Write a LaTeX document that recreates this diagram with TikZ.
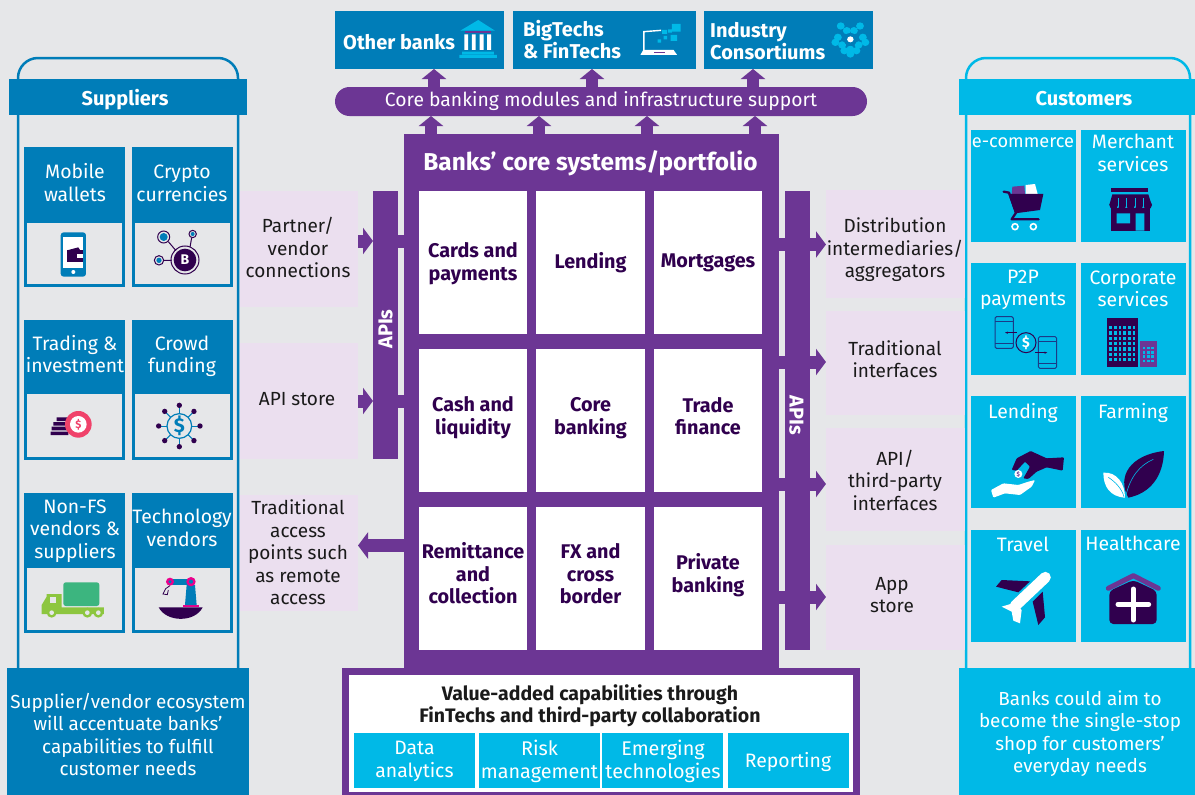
\documentclass[tikz,border=0pt]{standalone}
\usepackage{fontspec}
\setmainfont{Fira Sans}
\usetikzlibrary{arrows.meta}
\definecolor{bgc}{HTML}{E6E7E9}
\definecolor{blu}{HTML}{007DB8}
\definecolor{cya}{HTML}{00B9E7}
\definecolor{pur}{HTML}{6C3694}
\definecolor{dpu}{HTML}{30004E}
\definecolor{lil}{HTML}{EBDFEF}
\definecolor{ink}{HTML}{1A1A1A}
\definecolor{pnk}{HTML}{F0426A}
\definecolor{mag}{HTML}{EC008C}
\definecolor{grn}{HTML}{3CB57F}
\definecolor{lgr}{HTML}{8DC63F}
\definecolor{nav}{HTML}{1B3A87}
\newcommand\bx[7]{\pgfmathsetmacro\bxw{(#4)-(#2)}\pgfmathsetmacro\bxh{(#5)-(#3)}%
  \node[#6,minimum width=\bxw pt,minimum height=\bxh pt,anchor=north west,inner sep=0pt,align=center,outer sep=0pt](#1) at (#2,#3){#7};}
\tikzset{
  lbl/.style={inner sep=0pt,align=center,font=\fontsize{19}{22.5}\selectfont},
  wlbl/.style={lbl,text=white,font=\fontsize{19.4}{22.5}\selectfont},
  ilbl/.style={lbl,text=ink},
  clbl/.style={lbl,text=dpu,font=\fontsize{19.8}{22.5}\selectfont\bfseries},
  flbl/.style={lbl,text=white,font=\fontsize{18.9}{22.3}\selectfont},
  hdr/.style={lbl,text=white,font=\fontsize{20}{22}\selectfont\bfseries},
  thdr/.style={hdr,anchor=west,align=left,font=\fontsize{20}{22}\selectfont\bfseries},
  apit/.style={inner sep=0pt,text=white,font=\fontsize{20}{22}\selectfont\bfseries},
  fb/.style={fill=blu}, fc/.style={fill=cya}, fp/.style={fill=pur},
  fl/.style={fill=lil}, fw/.style={fill=white}, fg/.style={fill=bgc},
  blockR/.style={pur,line width=13pt,-{Triangle[length=10pt,width=26pt]}},
  blockU/.style={pur,line width=12pt,-{Triangle[length=10pt,width=24pt]}},
  link/.style={pur,line width=13pt},
  zm/.style={x=0.33333pt,y=-0.33333pt},
  zw/.style={x=0.35714pt,y=-0.33333pt},
}
\begin{document}
\begin{tikzpicture}[x=1pt,y=-1pt]
\useasboundingbox (0,0) rectangle (1195,795);
\fill[bgc] (0,0) rectangle (1195,795);
% frames
\draw[blu,line width=2.5pt,rounded corners=20pt] (18,668) -- (18,58) -- (238,58) -- (238,668);
\draw[cya,line width=2.5pt,rounded corners=20pt] (966,668) -- (966,58) -- (1190,58) -- (1190,668);
\bx{suph}{9}{79}{247}{115}{fb}{}\node[hdr] (supht) at (125,99.5) {Suppliers};
\bx{cush}{959}{79}{1195}{115}{fc}{}\node[hdr] (cusht) at (1084,99) {Customers};
\bx{supf}{7}{668}{249}{795}{fb}{}\node[flbl] (supft) at (128,734.5) {Supplier/vendor ecosystem\\will accentuate banks’\\capabilities to fulfill\\customer needs};
\bx{cusf}{959}{668}{1195}{795}{fc}{}\node[flbl] (cusft) at (1080,733.5) {Banks could aim to\\become the single-stop\\shop for customers'\\everyday needs};
% supplier cards
\newcommand\scard[8]{\bx{#1}{#2}{#3}{#2+101}{#4}{fb}{}\bx{#1p}{#2+3}{#5}{#2+98}{#4-3}{fg}{}\node[wlbl] (#1t) at (#6,#7) {#8};}
\scard{sa}{24}{147}{287}{223}{75}{182.5}{Mobile\\wallets}
\scard{sb}{132}{147}{287}{223}{182}{183.5}{Crypto\\currencies}
\scard{sc}{24}{320}{460}{394}{75}{354}{Trading \&\\investment}
\scard{sd}{132}{320}{460}{394}{182}{356.5}{Crowd\\funding}
\scard{se}{24}{493}{633}{568}{75}{531}{Non-FS\\vendors \&\\suppliers}
\scard{sf}{132}{493}{633}{568}{182}{528}{Technology\\vendors}
% customer cards
\newcommand\ccard[6]{\bx{#1}{#2}{#3}{#2+105}{#3+112}{fc}{}\node[wlbl] (#1t) at (#4,#5) {#6};}
\ccard{ca}{971}{130}{1023}{143}{\fontsize{18.2}{22.5}\selectfont e-commerce}
\ccard{cb}{1081}{130}{1133}{153}{Merchant\\services}
\ccard{cc}{971}{263}{1023}{290}{P2P\\payments}
\ccard{cd}{1081}{263}{1133}{289}{Corporate\\services}
\ccard{ce}{971}{396}{1023}{413}{Lending}
\ccard{cf}{1081}{396}{1133}{413}{Farming}
\ccard{cg}{971}{530}{1023}{544}{Travel}
\ccard{ch}{1081}{530}{1133}{543}{Healthcare}
% lilac boxes
\bx{pa}{240}{191}{358}{307}{fl}{}\node[ilbl] (pat) at (298,247.5) {Partner/\\vendor\\connections};
\bx{pb}{240}{343}{358}{459}{fl}{}\node[ilbl] (pbt) at (297,399.5) {API store};
\bx{pc}{240}{495}{358}{611}{fl}{}\node[ilbl] (pct) at (298,552.5) {Traditional\\access\\points such\\as remote\\access};
\bx{da}{826}{190}{965}{298}{fl}{}\node[ilbl] (dat) at (895,250) {Distribution\\intermediaries/\\aggregators};
\bx{db}{826}{311}{965}{415}{fl}{}\node[ilbl] (dbt) at (895,359) {Traditional\\interfaces};
\bx{dc}{826}{428}{965}{531}{fl}{}\node[ilbl] (dct) at (895,480) {API/\\third-party\\interfaces};
\bx{dd}{826}{545}{965}{650}{fl}{}\node[ilbl] (ddt) at (892,595) {App\\store};
% core
\bx{core}{404}{134}{779}{668}{fp}{}
\node[inner sep=0pt,text=white,font=\fontsize{24.4}{26}\selectfont\bfseries] (coret) at (590.5,163) {Banks’ core systems/portfolio};
\newcommand\cell[6]{\bx{#1}{#2}{#3}{#2+#4}{#3+143}{fw}{}\node[clbl] (#1t) at (#2+#4/2,#5) {#6};}
\cell{m1}{419}{191}{108}{263.5}{Cards and\\payments}
\cell{m2}{536}{191}{109}{263}{Lending}
\cell{m3}{654}{191}{108}{263}{Mortgages}
\cell{m4}{419}{349}{108}{417.5}{Cash and\\liquidity}
\cell{m5}{536}{349}{109}{418}{Core\\banking}
\cell{m6}{654}{349}{108}{416}{Trade\\finance}
\cell{m7}{419}{507}{108}{573.5}{Remittance\\and\\collection}
\cell{m8}{536}{507}{109}{574}{FX and\\cross\\border}
\cell{m9}{654}{507}{108}{575}{Private\\banking}
% API bars
\bx{al}{373}{191}{398}{459}{fp}{}
\bx{ar}{785}{191}{810}{650}{fp}{}
\node[rotate=90,apit] (alt) at (385.5,329) {APIs};
\node[rotate=-90,apit] (art) at (796.5,415) {APIs};
% pill and top boxes
\node[fp,rounded corners=14.5pt,minimum width=532pt,minimum height=29pt,inner sep=0pt,text=white,font=\fontsize{19.3}{22}\selectfont,outer sep=0pt] (pill) at (601,101.5) {Core banking modules and infrastructure support};
\bx{ta}{335}{11}{504}{69}{fb}{}\node[thdr] (tat) at (343,42) {Other banks};
\bx{tb}{513}{11}{696}{69}{fb}{}\node[thdr] (tbt) at (523,40) {BigTechs\\\& FinTechs};
\bx{tc}{704}{11}{873}{69}{fb}{}\node[thdr] (tct) at (710,41) {Industry\\Consortiums};
% bottom box
\bx{vo}{342}{668}{860}{795}{fp}{}
\bx{vi}{349}{675}{853}{792}{fw}{}
\node[lbl,text=ink,font=\fontsize{19.5}{22}\selectfont\bfseries] (vt) at (590,706) {Value-added capabilities through\\FinTechs and third-party collaboration};
\bx{v1}{354}{733}{475}{788}{fc}{}\node[wlbl] (v1t) at (414.5,761.5) {Data\\analytics};
\bx{v2}{479}{733}{600}{788}{fc}{}\node[wlbl,font=\fontsize{19.8}{22.5}\selectfont] (v2t) at (539.5,761.5) {Risk\\management};
\bx{v3}{602}{733}{723}{788}{fc}{}\node[wlbl,font=\fontsize{19.8}{22.5}\selectfont] (v3t) at (663,761.5) {Emerging\\technologies};
\bx{v4}{728}{733}{849}{788}{fc}{}\node[wlbl] (v4t) at (788,762) {Reporting};
% connectors: left
\coordinate (ya) at (0,241); \coordinate (yb) at (0,401); \coordinate (yc) at (0,545.5);
\draw[blockR] (pa.east |- ya) -- (al.west |- ya);
\draw[link] (al.east |- ya) -- (core.west |- ya);
\draw[blockR] (pb.east |- yb) -- (al.west |- yb);
\draw[link] (al.east |- yb) -- (core.west |- yb);
\draw[blockR] (core.west |- yc) -- (pc.east |- yc);
% connectors: right
\foreach \yy/\bxn in {244.5/da,362/db,484/dc,597/dd}{
  \coordinate (yr) at (0,\yy);
  \draw[link] (core.east |- yr) -- (ar.west |- yr);
  \draw[blockR] (ar.east |- yr) -- (\bxn.west |- yr);
}
% connectors: up
\foreach \xx in {431,539,647,755}{
  \coordinate (xu) at (\xx,0);
  \draw[blockU] (xu |- core.north) -- (xu |- pill.south);
}
\coordinate (xa) at (434,0); \coordinate (xb) at (592,0); \coordinate (xc) at (753,0);
\draw[blockU] (xa |- pill.north) -- (xa |- ta.south);
\draw[blockU] (xb |- pill.north) -- (xb |- tb.south);
\draw[blockU] (xc |- pill.north) -- (xc |- tc.south);
% ---------- icons
\begin{scope}[shift={(0,50)},zm]
 \fill[blu,rounded corners=3pt] (182,547) rectangle (258,680);
 \fill[white] (189,560) rectangle (250,655);
 \fill[white] (220,666) circle (6);
 \fill[dpu] (200,600) rectangle (248,637);
 \fill[dpu] (205,600) -- (235,592) -- (240,600) -- cycle;
 \fill[white] (230,612) rectangle (248,625);
 \draw[dpu,line width=1pt] (555,630) circle (42);
 \fill[dpu] (555,630) circle (34);
 \node[text=white,inner sep=0pt,font=\fontsize{14}{14}\selectfont\bfseries] (bit) at (555,630) {B};
 \draw[dpu,line width=1pt] (505,575)--(528,602) (575,563)--(570,592) (491,631)--(515,631);
 \draw[dpu,line width=1pt,fill=bgc] (491,561) circle (18) (578,552) circle (11) (477,631) circle (14);
 \fill[blu] (491,561) circle (12) (578,552) circle (6) (477,631) circle (8);
\end{scope}
\begin{scope}[shift={(0,320)},zm]
 \fill[dpu] (170,292) rectangle (205,303) (160,306) rectangle (205,317) (155,320) rectangle (205,331) (152,335) rectangle (205,345);
 \fill[pnk] (235,313) circle (40);
 \fill[white] (235,313) circle (25);
 \node[text=pnk,inner sep=0pt,font=\fontsize{11}{11}\selectfont\bfseries] (coin) at (235,313) {\$};
 \foreach \a in {0,45,...,315}{
   \draw[blu,line width=1pt] (538,318)++(\a:37) -- ++(\a:25);
   \fill[dpu] (538,318)++(\a:62) circle (8);
 }
 \draw[blu,line width=1.2pt] (538,318) circle (37);
 \node[text=blu,inner sep=0pt,font=\fontsize{20}{20}\selectfont\bfseries] (cro) at (538,318) {\$};
 \fill[grn,rounded corners=2.5pt] (190,787) rectangle (298,858);
 \fill[lgr] (140,822) -- (185,822) -- (185,862) -- (312,862) -- (312,882) -- (125,882) -- (125,855) -- (140,830) -- cycle;
 \fill[bgc] (150,832) rectangle (168,850);
 \foreach \xx in {155,262,295}{\fill[lgr] (\xx,878) circle (15); \fill[bgc] (\xx,878) circle (7);}
 \fill[dpu] (476,862) .. controls (500,908) and (585,908) .. (608,862) -- cycle;
 \fill[mag] (550,855) rectangle (597,862);
 \fill[blu] (560,795) -- (585,795) -- (590,855) -- (555,855) -- cycle;
 \fill[blu] (510,778) rectangle (575,794);
 \fill[mag] (510,785) circle (12) (573,785) circle (14);
 \fill[blu] (510,785) circle (5) (573,785) circle (6);
 \draw[dpu,line width=0.8pt] (510,797) -- (497,806) -- (489,822) -- (502,824) -- (505,810);
\end{scope}
\begin{scope}[shift={(320,0)},zw]
 \fill[cya] (443,60) -- (490,92) -- (393,92) -- cycle;
 \fill[pur] (405,94) rectangle (480,100);
 \fill[white] (404,103) rectangle (415,150) (425,103) rectangle (436,150) (447,103) rectangle (458,150) (468,103) rectangle (479,150);
 \fill[cya] (398,155) rectangle (487,163) (390,165) rectangle (495,174);
 \draw[white,line width=1.4pt] (907,150) -- (907,95) -- (955,91);
 \fill[white] (905,150) -- (990,150) -- (1000,165) -- (897,165) -- cycle;
 \fill[pur] (935,157) rectangle (965,160);
 \fill[cya] (985,72) rectangle (1010,95) (982,105) rectangle (1000,123) (958,90) rectangle (972,102) (975,88) rectangle (985,98) (945,118) rectangle (955,128) (962,108) rectangle (972,118);
 \foreach \p in {(1458,78),(1512,78),(1443,127),(1527,127),(1485,162),(1475,92),(1495,92),(1462,135),(1508,135),(1485,148),(1450,112),(1520,112),(1468,152),(1502,152)}{\fill[cya] \p circle (11);}
 \fill[blu] (1485,118) circle (19);
 \fill[white] (1485,118) circle (9);
\end{scope}
\begin{scope}[shift={(960,50)},zm]
 % cart
 \fill[pur] (157,410) -- (193,407) -- (195,434) -- (155,434) -- cycle;
 \fill[white] (197,405) -- (225,402) -- (233,432) -- (197,434) -- cycle;
 \fill[dpu] (145,432) -- (250,432) -- (240,480) -- (165,490) -- cycle;
 \draw[dpu,line width=2.3pt,line cap=round,line join=round] (131,425) -- (147,428) -- (168,488) -- (155,508) -- (236,508);
 \draw[white,line width=1.6pt] (165,530) circle (9) (220,530) circle (9);
 % store
 \fill[dpu] (453,415) rectangle (565,427);
 \fill[dpu] (457,433) -- (565,433) -- (575,465) -- (448,465) -- cycle;
 \foreach \xx in {461,486,512,537,563}{\fill[dpu] (\xx,465) circle (13);}
 \foreach \xx in {474,499,525,550}{\fill[cya] (\xx,445) rectangle (\xx+3,470);}
 \fill[dpu] (453,475) rectangle (570,542);
 \fill[cya] (470,490) rectangle (510,520) (527,490) rectangle (553,542);
 % P2P
 \draw[nav,line width=1pt,rounded corners=1.5pt] (105,800) rectangle (160,895);
 \draw[nav,line width=1pt,rounded corners=1.5pt] (235,860) rectangle (290,955);
 \draw[nav,line width=.8pt] (105,815)--(160,815) (105,880)--(160,880) (235,875)--(290,875) (235,940)--(290,940);
 \draw[dpu,line width=1pt,fill=cya] (198,878) circle (30);
 \node[text=white,inner sep=0pt,font=\fontsize{14}{14}\selectfont\bfseries] (pz) at (198,878) {\$};
 \draw[dpu,line width=1pt,-{Stealth[length=3pt]}] (170,848) -- (135,848);
 \draw[dpu,line width=1pt,-{Stealth[length=3pt]}] (226,908) -- (262,908);
 % corporate
 \fill[dpu] (442,805) rectangle (533,950);
 \foreach \i in {0,...,5}{\foreach \j in {0,...,6}{\fill[cya] (448+\i*14,828+\j*16) rectangle (456+\i*14,838+\j*16);}}
 \fill[pur] (541,873) rectangle (591,950);
 \foreach \i in {0,1,2}{\foreach \j in {0,...,3}{\fill[cya] (548+\i*13,890+\j*13) rectangle (556+\i*13,898+\j*13);}}
\end{scope}
\begin{scope}[shift={(960,380)},zm]
 \fill[dpu,rounded corners=1pt] (155,270) -- (170,235) -- (212,213) -- (260,235) -- (312,232) -- (308,272) -- (260,262) -- (230,275) -- (205,297) -- (190,295) -- (210,260) -- (195,245) -- (170,272) -- cycle;
 \fill[white,rounded corners=1pt] (93,330) -- (130,310) -- (175,315) -- (205,305) -- (225,300) -- (215,320) -- (180,345) -- (135,340) -- (100,353) -- cycle;
 \fill[white] (175,282) circle (12);
 \node[text=pur,inner sep=0pt,font=\fontsize{6}{6}\selectfont\bfseries] (lz) at (175,282) {\$};
 \fill[dpu] (505,353) .. controls (470,290) and (510,225) .. (612,213) .. controls (610,290) and (570,340) .. (505,353) -- cycle;
 \draw[cya,line width=.6pt] (497,350) .. controls (510,290) and (540,255) .. (580,238);
 \fill[white] (430,278) .. controls (470,275) and (495,310) .. (495,353) .. controls (450,350) and (430,320) .. (430,278) -- cycle;
 \draw[cya,line width=.6pt] (445,292) .. controls (465,305) and (485,325) .. (492,350);
 % plane
 \fill[dpu] (108,620) -- (125,600) -- (210,604) -- (175,637) -- cycle;
 \fill[dpu] (218,665) -- (248,635) -- (255,712) -- (235,735) -- cycle;
 \draw[white,line width=11pt,line cap=round] (256,592) -- (165,678);
 \fill[white] (125,680) -- (165,668) -- (185,690) -- (180,730) -- (160,722) -- (155,695) -- cycle;
 % house
 \fill[dpu,rounded corners=4pt] (448,633) -- (520,600) -- (590,633) -- (590,732) -- (448,732) -- cycle;
 \draw[pur,line width=5pt,line cap=round,line join=round] (445,625) -- (520,587) -- (595,625);
 \draw[white,line width=5pt,line cap=round] (520,627) -- (520,720) (474,673) -- (566,673);
\end{scope}
\end{tikzpicture}
\end{document}
